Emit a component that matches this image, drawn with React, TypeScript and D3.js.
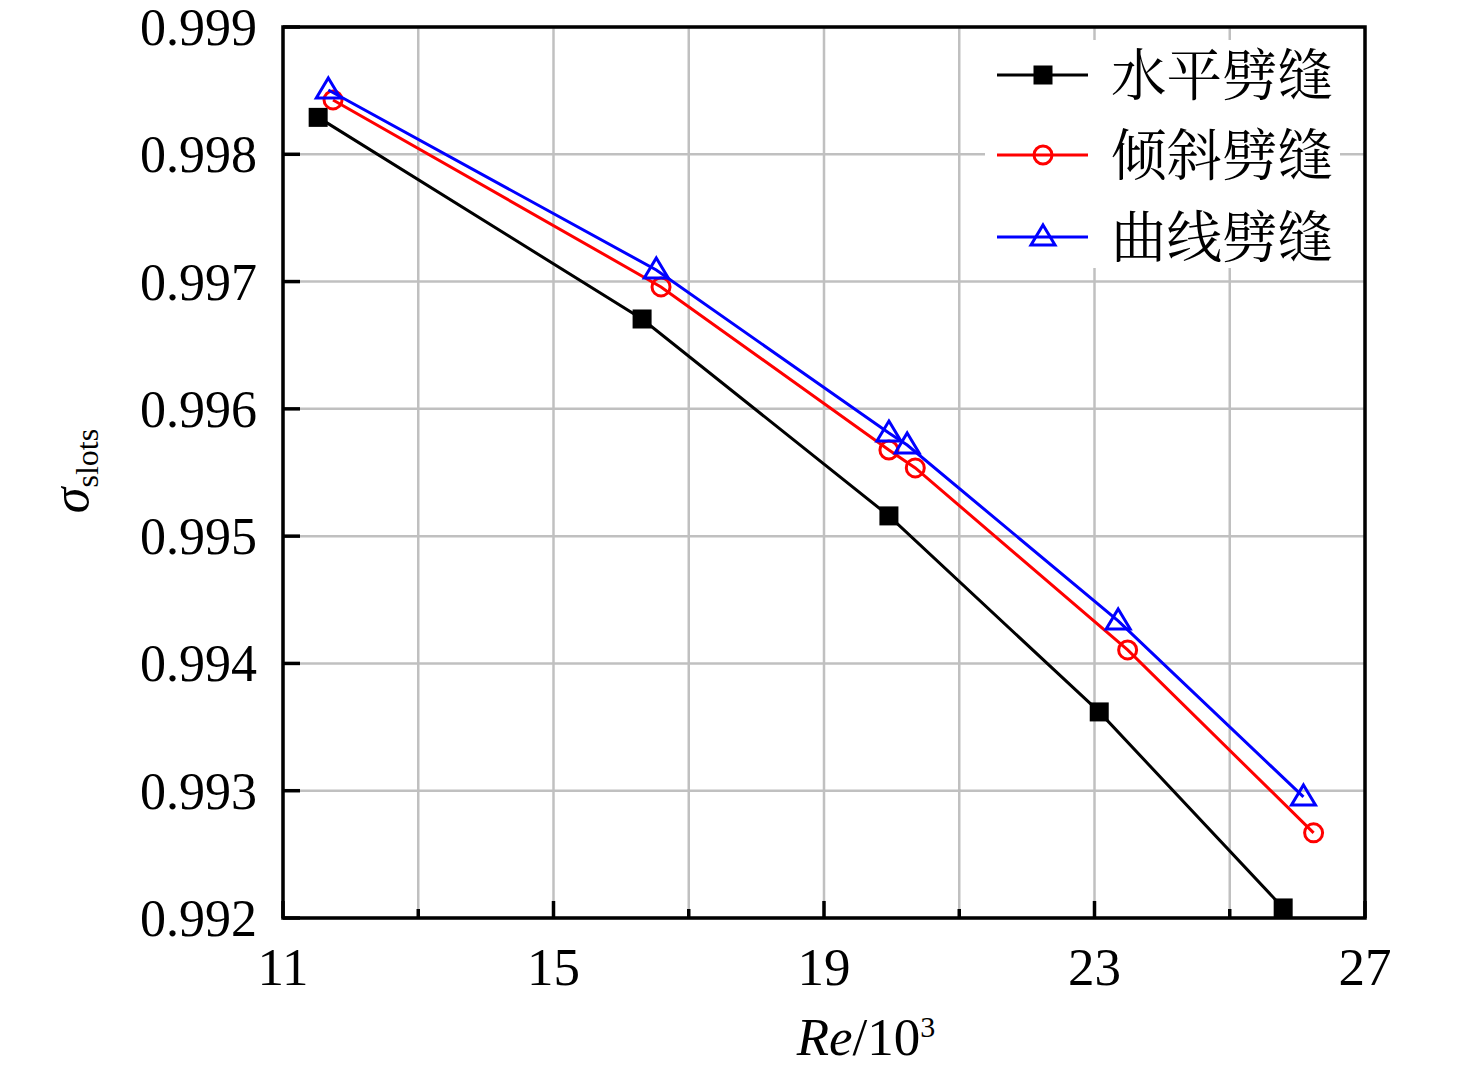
import React from 'react';
import * as d3 from 'd3';

// Re/10^3 and sigma_slots
const horizRe = [11.52, 16.31, 19.96, 23.07, 25.79];
const horizSigma = [0.99829, 0.996706, 0.995159, 0.993619, 0.992079];

const inclinedRe = [11.74, 16.59, 19.96, 20.35, 23.49, 26.24];
const inclinedSigma = [0.998427, 0.996958, 0.995677, 0.995536, 0.994106, 0.992669];

const curvedRe = [11.67, 16.52, 19.96, 20.23, 23.35, 26.09];
const curvedSigma = [0.998505, 0.997091, 0.99581, 0.995716, 0.994334, 0.992951];

const seriesNames = ['水平劈缝', '倾斜劈缝', '曲线劈缝'];
const seriesColors = ['#000000', '#ff0000', '#0000ff'];
const seriesMarkers = ['square', 'circle', 'triangle'];

const xTicks = [11, 15, 19, 23, 27];
const xMinor = [13, 17, 21, 25];
const yTicks = [0.992, 0.993, 0.994, 0.995, 0.996, 0.997, 0.998, 0.999];

const W = 1476;
const H = 1075;
const plot = { left: 283, right: 1365, top: 27, bottom: 918 };
const serif = '"Times New Roman", "Liberation Serif", Tinos, serif';
const cjk = '"Noto Serif CJK SC", "Noto Sans CJK SC", sans-serif';

const Marker = ({ kind, x, y, color }: { kind: string; x: number; y: number; color: string }) => {
  if (kind === 'square') return <rect x={x - 9.5} y={y - 9.5} width={19} height={19} fill={color} />;
  if (kind === 'circle') return <circle cx={x} cy={y} r={9} fill="none" stroke={color} strokeWidth={3} />;
  const pts = [[x, y - 12], [x + 12, y + 8], [x - 12, y + 8]].map(p => p.join(',')).join(' ');
  return <polygon points={pts} fill="none" stroke={color} strokeWidth={3} />;
};

export default function App() {
  const x = d3.scaleLinear().domain([11, 27]).range([plot.left, plot.right]);
  const y = d3.scaleLinear().domain([0.992, 0.999]).range([plot.bottom, plot.top]);
  const line = d3.line<[number, number]>().x(d => x(d[0])).y(d => y(d[1]));

  const series = [
    d3.zip(horizRe, horizSigma) as [number, number][],
    d3.zip(inclinedRe, inclinedSigma) as [number, number][],
    d3.zip(curvedRe, curvedSigma) as [number, number][],
  ];

  const legendY = [75, 155, 237];

  return (
    <svg width={W} height={H} style={{ display: 'block', margin: '-8px' }}>
      <rect width={W} height={H} fill="#fff" />
      {/* grid */}
      {[...xTicks, ...xMinor].map(t => (
        <line key={'gx' + t} x1={x(t)} x2={x(t)} y1={plot.top} y2={plot.bottom} stroke="#c0c0c0" strokeWidth={2.5} />
      ))}
      {yTicks.map(t => (
        <line key={'gy' + t} x1={plot.left} x2={plot.right} y1={y(t)} y2={y(t)} stroke="#c0c0c0" strokeWidth={2.5} />
      ))}
      {/* legend background */}
      <rect x={985} y={40} width={355} height={228} fill="#fff" />
      {/* series */}
      {series.map((s, i) => (
        <g key={'s' + i}>
          <path d={line(s) || ''} fill="none" stroke={seriesColors[i]} strokeWidth={3} />
          {s.map((d, j) => (
            <Marker key={j} kind={seriesMarkers[i]} x={x(d[0])} y={y(d[1])} color={seriesColors[i]} />
          ))}
        </g>
      ))}
      {/* frame */}
      <rect x={plot.left} y={plot.top} width={plot.right - plot.left} height={plot.bottom - plot.top} fill="none" stroke="#000" strokeWidth={3.5} />
      {/* ticks */}
      {xTicks.map(t => (
        <line key={'tx' + t} x1={x(t)} x2={x(t)} y1={plot.bottom} y2={plot.bottom - 17} stroke="#000" strokeWidth={3.5} />
      ))}
      {xMinor.map(t => (
        <line key={'mx' + t} x1={x(t)} x2={x(t)} y1={plot.bottom} y2={plot.bottom - 9} stroke="#000" strokeWidth={3.5} />
      ))}
      {yTicks.map(t => (
        <line key={'ty' + t} x1={plot.left} x2={plot.left + 17} y1={y(t)} y2={y(t)} stroke="#000" strokeWidth={3.5} />
      ))}
      {/* tick labels */}
      {xTicks.map(t => (
        <text key={'lx' + t} x={x(t)} y={985} textAnchor="middle" fontFamily={serif} fontSize={53}>{t}</text>
      ))}
      {yTicks.map(t => (
        <text key={'ly' + t} x={257} y={y(t) + 18} textAnchor="end" fontFamily={serif} fontSize={52}>{d3.format('.3f')(t)}</text>
      ))}
      {/* axis titles */}
      <text x={866} y={1055} textAnchor="middle" fontFamily={serif} fontSize={53}>
        <tspan fontStyle="italic">Re</tspan>/10<tspan fontSize={30} dy={-18}>3</tspan>
      </text>
      <text transform="translate(88,471) rotate(-90)" textAnchor="middle" fontFamily={serif} fontSize={52}>
        <tspan fontStyle="italic">σ</tspan><tspan fontSize={32} dy={10}>slots</tspan>
      </text>
      {/* legend */}
      {seriesNames.map((name, i) => (
        <g key={'lg' + i}>
          <line x1={997} x2={1088} y1={legendY[i]} y2={legendY[i]} stroke={seriesColors[i]} strokeWidth={3} />
          <Marker kind={seriesMarkers[i]} x={1043} y={legendY[i]} color={seriesColors[i]} />
          <text x={1111} y={legendY[i] + 20} fontFamily={cjk} fontSize={55.5}>{name}</text>
        </g>
      ))}
    </svg>
  );
}
